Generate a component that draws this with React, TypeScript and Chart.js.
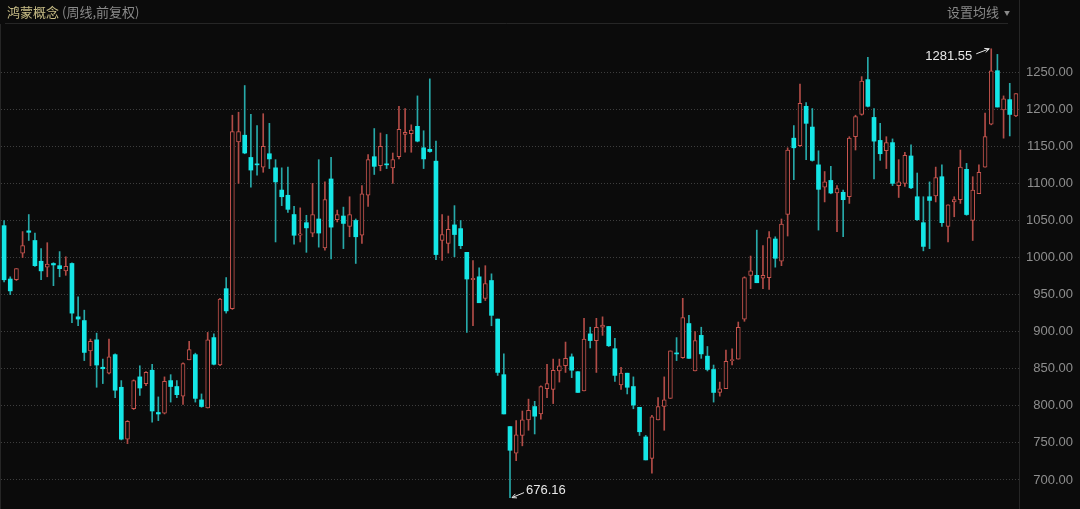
import React, { useEffect, useRef } from "react";
import { Chart, registerables } from "chart.js";

Chart.register(...registerables);

// Weekly OHLC values (鸿蒙概念, 周线, 前复权)
const OPEN = [
  1043, 971, 970, 1006, 1036, 1023, 995, 987, 992, 989, 982, 992, 920, 915, 874, 889, 852, 844, 869, 825,
  755, 796, 839, 830, 848, 791, 790, 834, 826, 813, 862, 869, 808, 797, 892, 855, 958, 931, 1156, 1165,
  1135, 1126, 1122, 1140, 1121, 1091, 1084, 1058, 1030, 1047, 1033, 1052, 1013, 1106, 1051, 1056, 1042, 1050, 1030, 1084,
  1136, 1124, 1126, 1121, 1136, 1166, 1167, 1177, 1148, 1146, 1130, 1023, 1019, 1044, 1039, 1007, 970, 974, 945, 969,
  917, 842, 772, 736, 760, 781, 799, 789, 823, 822, 847, 854, 866, 846, 820, 897, 888, 906, 907, 877,
  828, 844, 826, 798, 758, 729, 781, 799, 810, 871, 865, 911, 847, 895, 867, 849, 818, 823, 861, 863,
  917, 976, 976, 972, 973, 1025, 995, 1058, 1161, 1151, 1204, 1176, 1125, 1095, 1104, 1087, 1088, 1082, 1163, 1193,
  1240, 1189, 1158, 1144, 1155, 1097, 1100, 1137, 1082, 1047, 1082, 1083, 1109, 1042, 1075, 1078, 1119, 1050, 1086, 1122,
  1180, 1252, 1199, 1213, 1191,
];
const HIGH = [
  1050, 974, 985, 1035, 1058, 1033, 1012, 1020, 993, 1008, 1001, 993, 947, 929, 890, 898, 863, 890, 870, 834,
  780, 835, 854, 846, 856, 812, 839, 842, 834, 858, 887, 871, 816, 899, 897, 945, 973, 1192, 1196, 1232,
  1193, 1178, 1194, 1181, 1132, 1121, 1122, 1069, 1067, 1057, 1100, 1132, 1102, 1135, 1064, 1068, 1082, 1052, 1097, 1139,
  1174, 1168, 1166, 1141, 1204, 1201, 1179, 1218, 1171, 1241, 1157, 1058, 1056, 1070, 1050, 1007, 996, 986, 989, 978,
  917, 870, 772, 780, 793, 809, 806, 827, 856, 863, 863, 886, 870, 846, 918, 906, 918, 920, 907, 891,
  852, 844, 839, 798, 760, 787, 811, 839, 874, 892, 945, 922, 900, 906, 880, 855, 832, 875, 877, 913,
  974, 1002, 1037, 1016, 1035, 1028, 1052, 1148, 1178, 1234, 1209, 1201, 1144, 1116, 1123, 1097, 1091, 1163, 1192, 1244,
  1270, 1201, 1181, 1163, 1160, 1132, 1142, 1152, 1114, 1082, 1102, 1122, 1125, 1071, 1082, 1145, 1127, 1109, 1125, 1195,
  1281.55, 1274, 1218, 1235, 1221,
];
const LOW = [
  967, 950, 969, 1000, 1023, 988, 970, 974, 962, 974, 976, 912, 908, 861, 854, 825, 830, 843, 811, 754,
  749, 795, 814, 827, 778, 780, 789, 805, 811, 802, 862, 805, 798, 797, 855, 854, 925, 930, 1100, 1140,
  1095, 1111, 1115, 1120, 1021, 1070, 1061, 1018, 1021, 1007, 1028, 1014, 1010, 998, 1048, 1012, 1028, 992, 1019, 1069,
  1112, 1117, 1120, 1100, 1133, 1142, 1142, 1156, 1120, 1142, 997, 996, 1006, 1001, 1012, 899, 908, 939, 942, 908,
  841, 789, 676.16, 726, 746, 767, 762, 782, 811, 803, 832, 845, 838, 818, 820, 878, 845, 895, 880, 833,
  822, 816, 796, 760, 727, 709, 781, 767, 810, 861, 864, 864, 847, 864, 847, 805, 813, 823, 855, 863,
  914, 958, 966, 958, 957, 987, 989, 1029, 1105, 1150, 1132, 1130, 1037, 1075, 1086, 1035, 1028, 1073, 1145, 1192,
  1203, 1106, 1131, 1120, 1097, 1081, 1096, 1093, 1050, 1009, 1012, 1075, 1042, 1021, 1055, 1073, 1057, 1023, 1086, 1122,
  1179, 1203, 1161, 1164, 1190,
];
const CLOSE = [
  970, 955, 985, 1016, 1034, 989, 982, 991, 990, 985, 988, 925, 917, 872, 887, 855, 850, 866, 821, 755,
  779, 834, 824, 845, 793, 789, 833, 826, 815, 857, 876, 810, 799, 889, 856, 944, 928, 1170, 1170, 1141,
  1118, 1125, 1150, 1133, 1102, 1082, 1065, 1030, 1032, 1040, 1058, 1033, 1078, 1041, 1058, 1046, 1058, 1028, 1086, 1132,
  1123, 1150, 1125, 1132, 1173, 1169, 1172, 1157, 1133, 1143, 1004, 1031, 1038, 1031, 1016, 971, 972, 939, 965, 922,
  845, 789, 740, 761, 781, 794, 786, 826, 830, 848, 854, 864, 848, 818, 890, 888, 906, 909, 881, 841,
  844, 825, 801, 765, 727, 785, 799, 808, 874, 870, 919, 864, 888, 870, 849, 818, 823, 860, 862, 906,
  973, 982, 966, 976, 1027, 999, 1045, 1145, 1148, 1208, 1181, 1131, 1092, 1102, 1087, 1093, 1078, 1161, 1190, 1238,
  1204, 1157, 1140, 1155, 1100, 1102, 1138, 1094, 1051, 1015, 1077, 1108, 1047, 1071, 1078, 1122, 1058, 1091, 1115, 1163,
  1252, 1203, 1214, 1193, 1221,
];
const WEEKS = OPEN.map((_, i) => `第${i + 1}周`);
const Y_TICKS = [700, 750, 800, 850, 900, 950, 1000, 1050, 1100, 1150, 1200, 1250];

const TITLE = "鸿蒙概念";
const SUBTITLE = "(周线,前复权)";
const MA_BUTTON = "设置均线";

const BG = "#0b0b0b";
const UP = "#c9554f";
const UP_WICK = "#b24c47";
const DOWN = "#14e6e6";
const DOWN_WICK = "#27a9a9";
const LINE = "#262626";

function arrow(ctx: CanvasRenderingContext2D, x1: number, y1: number, x2: number, y2: number) {
  ctx.beginPath();
  ctx.moveTo(x1, y1);
  ctx.lineTo(x2, y2);
  const a = Math.atan2(y2 - y1, x2 - x1);
  const len = 5;
  ctx.moveTo(x2, y2);
  ctx.lineTo(x2 - len * Math.cos(a - 0.45), y2 - len * Math.sin(a - 0.45));
  ctx.moveTo(x2, y2);
  ctx.lineTo(x2 - len * Math.cos(a + 0.45), y2 - len * Math.sin(a + 0.45));
  ctx.stroke();
}

const framePlugin = {
  id: "frame",
  beforeDraw(chart: any) {
    const { ctx, chartArea } = chart;
    ctx.save();
    ctx.fillStyle = BG;
    ctx.fillRect(0, 0, chart.width, chart.height);
    ctx.strokeStyle = LINE;
    ctx.lineWidth = 1;
    ctx.beginPath();
    ctx.moveTo(5, 23.5);
    ctx.lineTo(1008, 23.5);
    ctx.moveTo(Math.round(chartArea.right) + 0.5, 0);
    ctx.lineTo(Math.round(chartArea.right) + 0.5, chart.height);
    ctx.moveTo(0.5, 24);
    ctx.lineTo(0.5, chart.height);
    ctx.stroke();
    ctx.restore();
  },
};

const annotPlugin = {
  id: "annot",
  afterDatasetsDraw(chart: any) {
    const { ctx } = chart;
    const xs = chart.scales.x;
    const ys = chart.scales.y;
    const hi = HIGH.indexOf(Math.max(...HIGH));
    const lo = LOW.indexOf(Math.min(...LOW));
    ctx.save();
    ctx.strokeStyle = "#e8e8e8";
    ctx.fillStyle = "#e8e8e8";
    ctx.lineWidth = 1;
    ctx.font = '13px "Liberation Sans", "DejaVu Sans", sans-serif';
    ctx.textBaseline = "middle";
    const hx = xs.getPixelForValue(hi);
    const hy = ys.getPixelForValue(HIGH[hi]);
    arrow(ctx, hx - 15, hy + 5, hx - 2, hy);
    ctx.textAlign = "right";
    ctx.fillText(HIGH[hi].toFixed(2), hx - 19, hy + 8);
    const lx = xs.getPixelForValue(lo);
    const ly = ys.getPixelForValue(LOW[lo]);
    arrow(ctx, lx + 14, ly - 5, lx + 2, ly);
    ctx.textAlign = "left";
    ctx.fillText(LOW[lo].toFixed(2), lx + 16, ly - 7);
    ctx.restore();
  },
};

export default function App() {
  const ref = useRef<HTMLCanvasElement | null>(null);

  useEffect(() => {
    if (!ref.current) return;
    const isUp = OPEN.map((o, i) => CLOSE[i] >= o);
    const chart = new Chart(ref.current, {
      type: "bar",
      data: {
        labels: WEEKS,
        datasets: [
          {
            label: "wick",
            data: WEEKS.map((_, i) => [LOW[i], HIGH[i]]) as any,
            backgroundColor: isUp.map((u) => (u ? UP_WICK : DOWN_WICK)),
            borderWidth: 0,
            barThickness: 1,
            grouped: false,
            order: 2,
          } as any,
          {
            label: "body",
            data: WEEKS.map((_, i) => [OPEN[i], CLOSE[i]]) as any,
            backgroundColor: isUp.map((u) => (u ? BG : DOWN)),
            borderColor: isUp.map((u) => (u ? UP : DOWN)),
            borderWidth: isUp.map((u) => (u ? 1 : 0)),
            borderSkipped: false,
            barThickness: 4,
            minBarLength: 1,
            grouped: false,
            order: 1,
          } as any,
        ],
      },
      options: {
        animation: false,
        responsive: false,
        maintainAspectRatio: false,
        layout: { padding: { top: 24, left: 1, right: 7, bottom: 0 } },
        plugins: { legend: { display: false }, tooltip: { enabled: false }, title: { display: false } },
        scales: {
          x: { display: false, offset: true, grid: { display: false } },
          y: {
            position: "right",
            min: 660.8,
            max: 1315,
            afterBuildTicks: (ax: any) => {
              ax.ticks = Y_TICKS.map((v) => ({ value: v }));
            },
            afterFit: (ax: any) => {
              ax.width = 54;
              ax.paddingTop = 0;
              ax.paddingBottom = 0;
            },
            ticks: {
              callback: (v: any) => Number(v).toFixed(2),
              color: "#8e8e8e",
              font: { size: 13, family: '"Liberation Sans", "DejaVu Sans", sans-serif' },
              padding: 6,
              crossAlign: "far",
            },
            grid: { color: "rgba(125,125,125,0.45)", drawTicks: false, lineWidth: 1 },
            border: { display: false, dash: [1, 2] },
          },
        },
      },
      plugins: [framePlugin, annotPlugin],
    });
    return () => chart.destroy();
  }, []);

  return (
    <div
      style={{
        position: "absolute",
        left: 0,
        top: 0,
        width: 1080,
        height: 509,
        background: BG,
        overflow: "hidden",
        fontFamily: '"Noto Sans CJK SC", "Noto Sans", sans-serif',
      }}
    >
      <canvas ref={ref} width={1080} height={509} style={{ position: "absolute", left: 0, top: 0 }} />
      <div style={{ position: "absolute", left: 7, top: 3, fontSize: 13, lineHeight: "18px", whiteSpace: "nowrap" }}>
        <span style={{ color: "#c8bd86" }}>{TITLE}</span>
        <span style={{ color: "#8a8a8a", marginLeft: 3 }}>{SUBTITLE}</span>
      </div>
      <div
        style={{
          position: "absolute",
          left: 947,
          top: 3,
          fontSize: 13,
          lineHeight: "18px",
          color: "#8a8a8a",
          whiteSpace: "nowrap",
        }}
      >
        {MA_BUTTON}
        <span style={{ fontSize: 6, marginLeft: 5, position: "relative", top: -2 }}>▼</span>
      </div>
    </div>
  );
}
